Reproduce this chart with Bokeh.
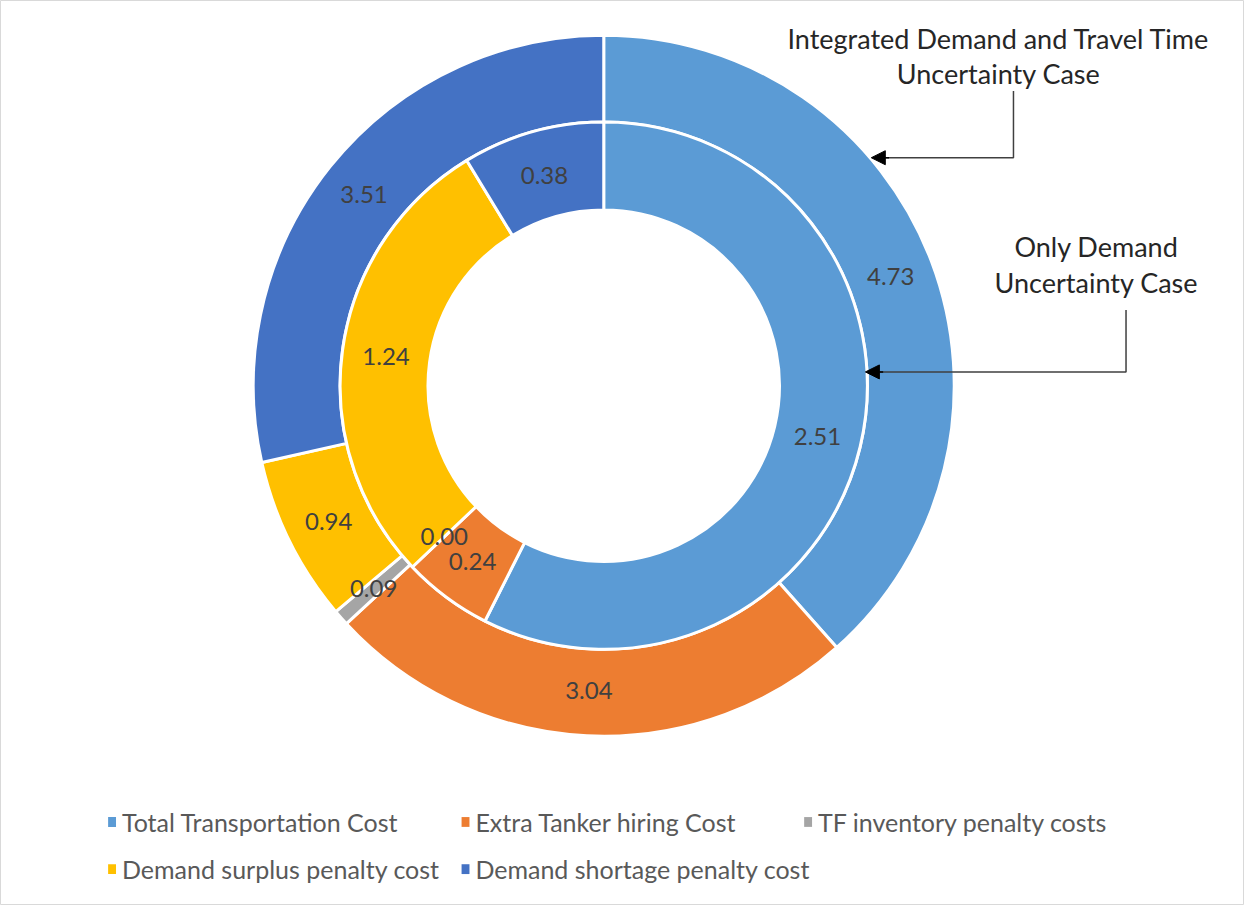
import math
from bokeh.plotting import figure
from bokeh.models import Range1d, Arrow, NormalHead, ColumnDataSource
from bokeh.core.properties import value
from bokeh.embed import file_html
from bokeh.resources import INLINE

# ---- data ----
categories = ["Total Transportation Cost", "Extra Tanker hiring Cost",
              "TF inventory penalty costs", "Demand surplus penalty cost",
              "Demand shortage penalty cost"]
inner_values = [2.51, 0.24, 0.00, 1.24, 0.38]   # Only Demand Uncertainty Case
outer_values = [4.73, 3.04, 0.09, 0.94, 3.51]   # Integrated Demand and Travel Time Uncertainty Case
colors = ["#5B9BD5", "#ED7D31", "#A5A5A5", "#FFC000", "#4472C4"]

# ---- layout: data units = reference-image pixels, doughnut centre at 0,0 ----
W, H = 1244, 905
REF_W, REF_H = 1260, 921
CX, CY = 611, 392
def sx(x):
    return x - CX
def sy(y):
    return CY - y

R_OUT, R_MID, R_IN = 355, 267, 178
FONT = "Lato"

p = figure(width=W, height=H, output_backend="svg", toolbar_location=None,
           x_range=Range1d(-CX, REF_W - CX), y_range=Range1d(CY - REF_H, CY),
           min_border=0)
p.axis.visible = False
p.grid.visible = False
p.outline_line_color = "#D9D9D9"
p.outline_line_width = 1
p.background_fill_color = "white"
p.border_fill_color = "white"


def ring(vals, r_in, r_out):
    total = sum(vals)
    w = dict(start=[], end=[], color=[])
    lab = dict(lx=[], ly=[], label=[])
    cum = 0.0
    for v, c in zip(vals, colors):
        a0 = math.pi / 2 - 2 * math.pi * cum / total
        a1 = math.pi / 2 - 2 * math.pi * (cum + v) / total
        am = (a0 + a1) / 2
        rm = (r_in + r_out) / 2
        if v > 0:
            w["start"].append(a0)
            w["end"].append(a1)
            w["color"].append(c)
        lab["lx"].append(rm * math.cos(am))
        lab["ly"].append(rm * math.sin(am))
        lab["label"].append(f"{v:.2f}")
        cum += v
    n = len(w["start"])
    w["x"] = [0] * n
    w["y"] = [0] * n
    p.annular_wedge(x="x", y="y", inner_radius=r_in, outer_radius=r_out,
                    start_angle="start", end_angle="end", direction="clock",
                    fill_color="color", line_color="white", line_width=3,
                    source=ColumnDataSource(w))
    return lab


lab_o = ring(outer_values, R_MID, R_OUT)
lab_i = ring(inner_values, R_IN, R_MID)
for lab in (lab_o, lab_i):
    p.text(x="lx", y="ly", text="label", source=ColumnDataSource(lab), text_align="center",
           text_baseline="middle", text_font=value(FONT), text_font_size="24px",
           text_color="#404040")

# ---- callouts ----
p.text(x=[sx(1011), sx(1011)], y=[sy(39), sy(74)],
       text=["Integrated Demand and Travel Time", "Uncertainty Case"],
       text_align="center", text_baseline="middle", text_font=value(FONT),
       text_font_size="27px", text_color="#262626")
p.text(x=[sx(1110), sx(1110)], y=[sy(250), sy(287)],
       text=["Only Demand", "Uncertainty Case"],
       text_align="center", text_baseline="middle", text_font=value(FONT),
       text_font_size="27px", text_color="#262626")

p.line(x=[sx(1026), sx(1026), sx(895)], y=[sy(92), sy(160), sy(160)],
       line_color="#404040", line_width=1.5)
p.add_layout(Arrow(end=NormalHead(size=14, fill_color="black", line_color="black"),
                   x_start=sx(900), y_start=sy(160), x_end=sx(882), y_end=sy(160),
                   line_color="black", line_width=1.5))
p.line(x=[sx(1140), sx(1140), sx(890)], y=[sy(315), sy(378), sy(378)],
       line_color="#404040", line_width=1.5)
p.add_layout(Arrow(end=NormalHead(size=14, fill_color="black", line_color="black"),
                   x_start=sx(894), y_start=sy(378), x_end=sx(876), y_end=sy(378),
                   line_color="black", line_width=1.5))

# ---- legend (drawn manually to match layout) ----
leg_x = [113, 471, 818, 113, 471]
leg_y = [836, 836, 836, 884, 884]
p.rect(x=[sx(v) for v in leg_x], y=[sy(v) for v in leg_y], width=8, height=10,
       fill_color=colors, line_color=None)
p.text(x=[sx(v + 10) for v in leg_x], y=[sy(v) for v in leg_y], text=categories,
       text_align="left", text_baseline="middle", text_font=value(FONT),
       text_font_size="25px", text_color="#595959")

open("out.html", "w").write(file_html(p, INLINE))
